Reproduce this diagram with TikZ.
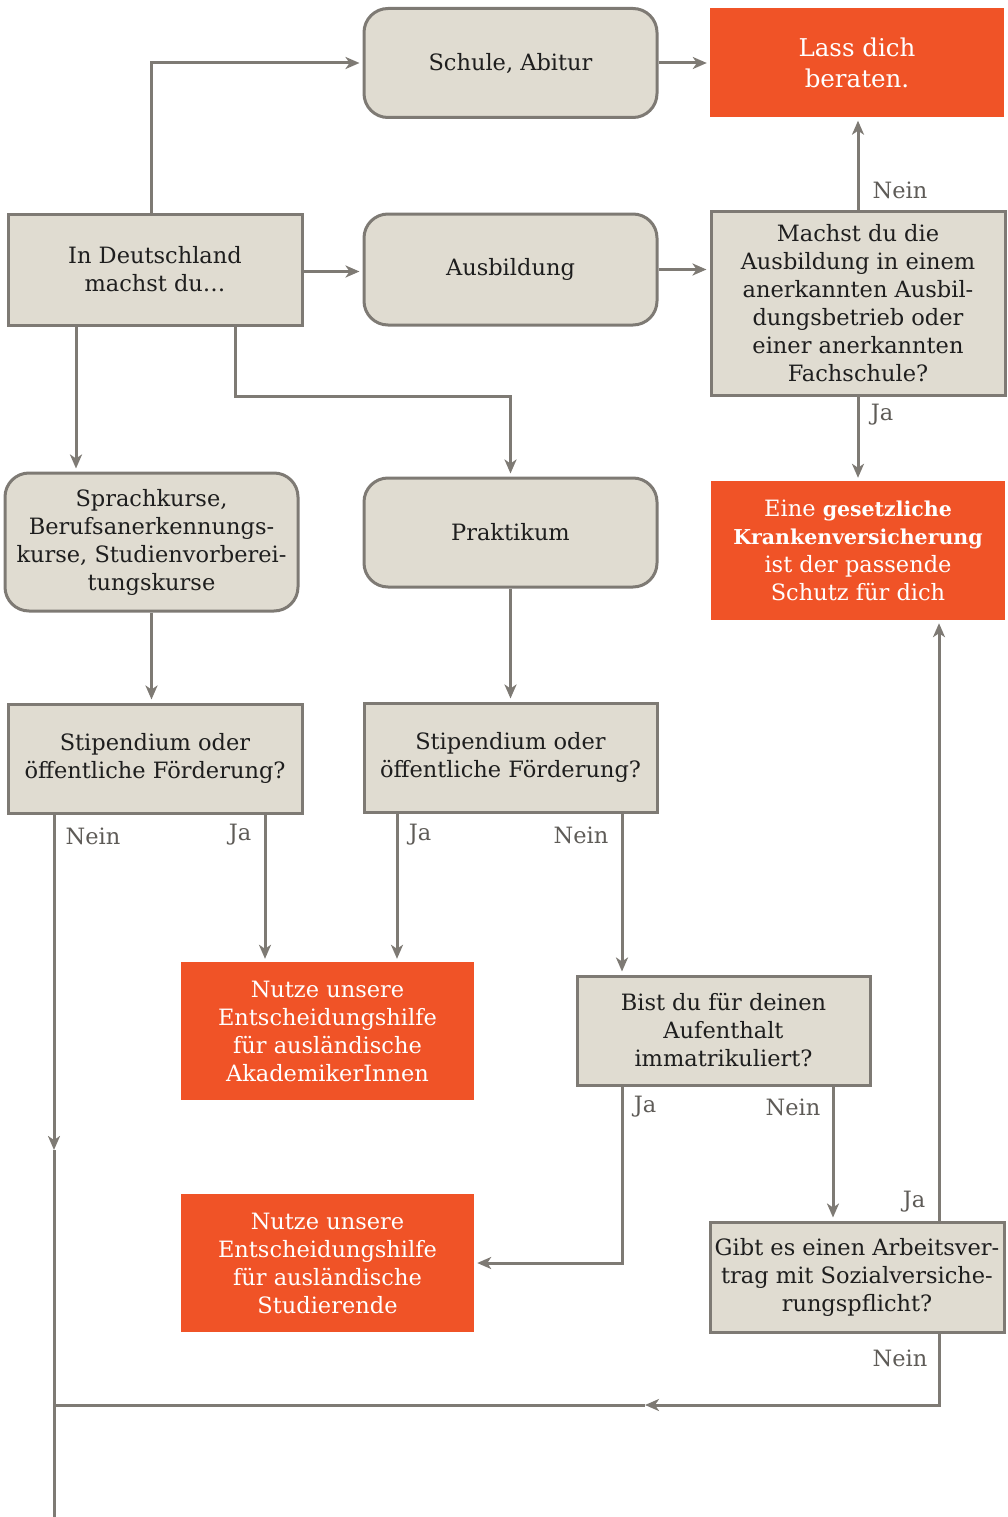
\documentclass[tikz,border=0pt]{standalone}
\usepackage{fontspec}
\setmainfont{DejaVu Serif}
\usetikzlibrary{arrows.meta}
\definecolor{boxfill}{HTML}{E0DCD1}
\definecolor{boxline}{HTML}{7E7A74}
\definecolor{orng}{HTML}{F05327}
\definecolor{lbl}{HTML}{5E5B57}
\definecolor{txt}{HTML}{1E1E1E}
\newcommand{\kbold}[1]{{\fontsize{20.5}{28}\selectfont\textbf{#1}}}
\begin{document}
\begin{tikzpicture}[x=1pt,y=-1pt,
  font=\fontsize{22.5}{28}\selectfont,
  base/.style={inner sep=0pt, align=center, text=txt},
  gbox/.style={base, draw=boxline, fill=boxfill, line width=3pt},
  rbox/.style={gbox, rounded corners=24pt},
  obox/.style={base, fill=orng, text=white},
  tip/.style={-{Stealth[length=14pt,width=12pt,inset=4pt]}},
  conn/.style={draw=boxline, line width=3pt, tip, shorten >=3pt},
  midc/.style={draw=boxline, line width=3pt, tip},
  ln/.style={draw=boxline, line width=3pt},
  lab/.style={text=lbl, inner sep=0pt}
]
\useasboundingbox (0,0) rectangle (1008,1517);

\node[rbox, minimum width=293pt, minimum height=109pt] (schule) at (510.5,63) {Schule, Abitur};
\node[obox, minimum width=294pt, minimum height=109pt, font=\fontsize{24.5}{31}\selectfont] (lass) at (857,63) {Lass dich\\beraten.};
\node[gbox, minimum width=294pt, minimum height=111pt] (ind) at (155,269.5) {In Deutschland\\machst du…};
\node[rbox, minimum width=293pt, minimum height=111pt] (ausb) at (510.5,269.5) {Ausbildung};
\node[gbox, minimum width=294pt, minimum height=184pt] (machst) at (858,303) {Machst du die\\Ausbildung in einem\\anerkannten Ausbil-\\dungsbetrieb oder\\einer anerkannten\\Fachschule?};
\node[rbox, minimum width=293pt, minimum height=138pt] (sprach) at (151.5,542) {Sprachkurse,\\Berufsanerkennungs-\\kurse, Studienvorberei-\\tungskurse};
\node[rbox, minimum width=293pt, minimum height=109pt] (prakt) at (510.5,532.5) {Praktikum};
\node[obox, minimum width=294pt, minimum height=139pt] (eine) at (858,550.5) {Eine \kbold{gesetzliche}\\\kbold{Krankenversicherung}\\ist der passende\\Schutz für dich};
\node[gbox, minimum width=294pt, minimum height=109pt] (stip1) at (155,758.5) {Stipendium oder\\öffentliche Förderung?};
\node[gbox, minimum width=293pt, minimum height=109pt] (stip2) at (510.5,757.5) {Stipendium oder\\öffentliche Förderung?};
\node[obox, minimum width=293pt, minimum height=138pt] (nutzeA) at (327.5,1031) {Nutze unsere\\Entscheidungshilfe\\für ausländische\\AkademikerInnen};
\node[gbox, minimum width=293pt, minimum height=109pt] (bist) at (723.5,1030.5) {Bist du für deinen\\Aufenthalt\\immatrikuliert?};
\node[obox, minimum width=293pt, minimum height=138pt] (nutzeS) at (327.5,1263) {Nutze unsere\\Entscheidungshilfe\\für ausländische\\Studierende};
\node[gbox, minimum width=294pt, minimum height=110pt] (gibt) at (857,1277) {Gibt es einen Arbeitsver-\\trag mit Sozialversiche-\\rungspflicht?};

\coordinate (m1) at (54,1150);
\coordinate (endL) at (54,1517);
\coordinate (m2) at (645,1405);
\coordinate (joinL) at (54,1405);

\draw[conn] ([xshift=-4pt]ind.north) |- (schule.west);
\draw[conn] (schule.east) -- (lass.west);
\draw[conn] ([yshift=-2pt]ind.east) -- ([yshift=-2pt]ausb.west);
\draw[conn] (ausb.east) -- (ausb.east -| machst.west);
\draw[conn] (machst.north) -- (machst.north |- lass.south);
\draw[conn] (machst.south) -- (eine.north);
\draw[conn] ([xshift=-79pt]ind.south) -- ([xshift=-79pt]ind.south |- sprach.north);
\draw[conn] ([xshift=80pt]ind.south) -- ++(0,70) -| (prakt.north);
\draw[conn] (sprach.south) -- (sprach.south |- stip1.north);
\draw[conn] (prakt.south) -- (stip2.north);
\draw[conn] ([xshift=110pt]stip1.south) -- ([xshift=110pt]stip1.south |- nutzeA.north);
\draw[midc] ([xshift=-101pt]stip1.south) -- (m1);
\draw[ln] (m1) -- (endL);
\draw[conn] ([xshift=-113.5pt]stip2.south) -- ([xshift=-113.5pt]stip2.south |- nutzeA.north);
\draw[conn] ([xshift=111.5pt]stip2.south) -- ([xshift=111.5pt]stip2.south |- bist.north);
\draw[conn] ([xshift=-101.5pt]bist.south) |- (nutzeS.east);
\draw[conn] ([xshift=109.5pt]bist.south) -- ([xshift=109.5pt]bist.south |- gibt.north);
\draw[conn] ([xshift=82pt]gibt.north) -- ([xshift=82pt]gibt.north |- eine.south);
\draw[midc] ([xshift=82pt]gibt.south) |- (m2);
\draw[ln] (m2) -- (joinL);

\node[lab] (l1) at (900,190) {Nein};
\node[lab] (l2) at (882,415) {Ja};
\node[lab] (l3) at (93,836) {Nein};
\node[lab] (l4) at (240,835) {Ja};
\node[lab] (l5) at (420,835) {Ja};
\node[lab] (l6) at (581,835) {Nein};
\node[lab] (l7) at (645,1107) {Ja};
\node[lab] (l8) at (793,1107) {Nein};
\node[lab] (l9) at (914,1202) {Ja};
\node[lab] (l10) at (900,1358) {Nein};
\end{tikzpicture}
\end{document}
